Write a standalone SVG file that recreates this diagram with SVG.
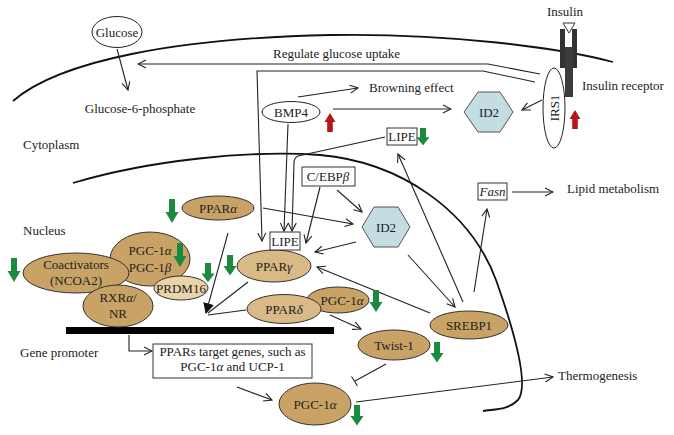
<svg xmlns="http://www.w3.org/2000/svg" xmlns:xlink="http://www.w3.org/1999/xlink" width="674" height="435" viewBox="0 0 674 435">
<defs>
<style>
text{font-family:"Liberation Serif","Times New Roman",serif;font-size:13px;fill:#222}
.c{text-anchor:middle}
.ln{fill:none;stroke:#222;stroke-width:1.1}
.mem{fill:none;stroke:#111;stroke-width:1.8}
.tan{fill:#c9a266;stroke:#333;stroke-width:1}
.lt{fill:#d9b985;stroke:#333;stroke-width:1}
.pale{fill:#ebd3aa;stroke:#333;stroke-width:1}
.box{fill:#fff;stroke:#333;stroke-width:1}
.hex{fill:#c3dde2;stroke:#555;stroke-width:1}
.arr{marker-end:url(#oa)}
</style>
<marker id="oa" viewBox="0 0 10 10" refX="9" refY="5" markerWidth="10" markerHeight="10" markerUnits="userSpaceOnUse" orient="auto">
<path d="M1,1 L9,5 L1,9" fill="none" stroke="#222" stroke-width="1.1"/>
</marker>
<marker id="fa" viewBox="0 0 10 10" refX="9" refY="5" markerWidth="11" markerHeight="11" markerUnits="userSpaceOnUse" orient="auto">
<path d="M0,0 L10,5 L0,10 z" fill="#111"/>
</marker>
<polygon id="gd" points="-3,0 3,0 3,13 6.5,13 0,24 -6.5,13 -3,13" fill="#1a8a3e"/>
<polygon id="ru" points="-2.8,19 2.8,19 2.8,9 5.5,9 0,0 -5.5,9 -2.8,9" fill="#b3171b"/>
</defs>
<rect width="674" height="435" fill="#fff"/>

<!-- membranes -->
<path class="mem" d="M13,101 C60,60 180,38 330,35 C450,33 560,48 613,62"/>
<path class="mem" d="M73,183 C150,160 250,150 320,155 C400,162 470,210 496,280 C512,325 530,385 518,400 C508,410 495,409 483,411"/>

<!-- labels -->
<text x="23" y="149">Cytoplasm</text>
<text x="23" y="235">Nucleus</text>
<text x="20" y="357">Gene promoter</text>
<text x="140" y="113" class="c">Glucose-6-phosphate</text>
<text x="273" y="58">Regulate glucose uptake</text>
<text x="369" y="92">Browning effect</text>
<text x="582" y="90">Insulin receptor</text>
<text x="567" y="193">Lipid metabolism</text>
<text x="558" y="380">Thermogenesis</text>
<text x="565" y="16" class="c">Insulin</text>

<!-- black promoter bar -->
<rect x="66" y="327" width="268" height="7" fill="#000"/>

<!-- connectors -->
<g id="connectors">
<line class="ln arr" x1="117" y1="49" x2="128" y2="90"/>
<polyline class="ln arr" points="540,74 488,64 138,64"/>
<polyline class="ln arr" points="535,82 483,71 257,71 262,241"/>
<line class="ln arr" x1="298" y1="97" x2="358" y2="88"/>
<line class="ln arr" x1="333" y1="109" x2="451" y2="109"/>
<line class="ln arr" x1="542" y1="100" x2="522" y2="110"/>
<line class="ln arr" x1="288" y1="124" x2="284" y2="231"/>
<path class="ln arr" d="M385,137 L298,156 Q294,158 294,163 L292,231"/>
<line class="ln arr" x1="320" y1="187" x2="306" y2="243"/>
<line class="ln arr" x1="337" y1="190" x2="362" y2="212"/>
<line class="ln arr" x1="263" y1="208" x2="353" y2="224"/>
<line class="ln arr" x1="356" y1="242" x2="315" y2="252"/>
<line class="ln arr" x1="430" y1="313" x2="317" y2="267"/>
<line class="ln arr" x1="408" y1="255" x2="455" y2="307"/>
<line class="ln arr" x1="463" y1="302" x2="398" y2="154"/>
<line class="ln arr" x1="474" y1="292" x2="487" y2="209"/>
<line class="ln arr" x1="512" y1="192" x2="553" y2="192"/>
<line class="ln" x1="228" y1="233" x2="206" y2="313" marker-end="url(#fa)"/>
<line class="ln" x1="248" y1="282" x2="208" y2="313"/>
<line class="ln" x1="246" y1="310" x2="208" y2="315"/>
<line class="ln arr" x1="330" y1="315" x2="361" y2="329"/>
<polyline class="ln arr" points="129,335 129,351 152,351"/>
<line class="ln arr" x1="237" y1="387" x2="272" y2="400"/>
<line class="ln arr" x1="356" y1="402" x2="553" y2="377"/>
<line class="ln" x1="386" y1="364" x2="355" y2="381"/>
<line class="ln" x1="351.5" y1="376.5" x2="357.5" y2="386"/>
</g>

<!-- nodes -->
<g id="glucose"><ellipse cx="117" cy="32" rx="25" ry="15.5" fill="#fff" stroke="#222"/><text x="117" y="37" class="c">Glucose</text></g>

<g id="receptor">
<rect x="560" y="29" width="5" height="39" fill="#333"/>
<rect x="572" y="29" width="5" height="39" fill="#333"/>
<rect x="565" y="47" width="8" height="50" fill="#3c3c3c"/>
<polygon points="563,23 575,23 569,33" fill="#fff" stroke="#333"/>
</g>
<g id="irs1"><ellipse cx="554" cy="108" rx="11" ry="40" fill="#fff" stroke="#222"/><text x="0" y="0" class="c" transform="translate(558.5,108) rotate(-90)">IRS1</text></g>

<g id="bmp4"><ellipse cx="291" cy="112" rx="29" ry="10.5" fill="#fff" stroke="#222"/><text x="291" y="117" class="c">BMP4</text></g>

<g id="id2-top"><polygon class="hex" points="464,112 478,92 500,92 513,112 500,132 478,132"/><text x="489" y="117" class="c">ID2</text></g>

<g id="lipe-top"><rect class="box" x="387" y="128" width="30" height="17"/><text x="402" y="141" class="c">LIPE</text></g>

<g id="cebpb"><rect class="box" x="302" y="167" width="53" height="19"/><text x="328" y="181" class="c">C/EBP<tspan font-style="italic">β</tspan></text></g>

<g id="id2-mid"><polygon class="hex" points="362,227 374,207 398,207 410,227 398,247 374,247"/><text x="386" y="232" class="c">ID2</text></g>

<g id="fasn"><rect class="box" x="478" y="183" width="29" height="17"/><text x="492.5" y="196" class="c" font-style="italic">Fasn</text></g>

<g id="ppara"><ellipse class="tan" cx="218" cy="208" rx="36" ry="12"/><text x="218" y="213" class="c">PPAR<tspan font-style="italic">α</tspan></text></g>

<g id="pparg"><ellipse class="lt" cx="274" cy="266" rx="37" ry="16"/><text x="274" y="271" class="c">PPAR<tspan font-style="italic">γ</tspan></text></g>
<g id="lipe-mid"><rect class="box" x="270" y="232" width="30" height="18"/><text x="285" y="246" class="c">LIPE</text></g>

<g id="pgc"><ellipse class="tan" cx="150" cy="259" rx="40" ry="27"/><text x="150" y="255" class="c">PGC-1<tspan font-style="italic">α</tspan></text><text x="150" y="272" class="c">PGC-1<tspan font-style="italic">β</tspan></text></g>
<g id="coactivators"><ellipse class="tan" cx="76" cy="273" rx="53" ry="20"/><text x="76" y="269" class="c">Coactivators</text><text x="76" y="285" class="c">(NCOA2)</text></g>
<g id="rxr"><ellipse class="tan" cx="118" cy="306" rx="35" ry="21"/><text x="118" y="302" class="c">RXR<tspan font-style="italic">α</tspan>/</text><text x="118" y="318" class="c">NR</text></g>
<g id="prdm16"><ellipse class="pale" cx="181" cy="288" rx="27" ry="12"/><text x="181" y="293" class="c">PRDM16</text></g>

<g id="pgc-small"><ellipse class="tan" cx="338" cy="300" rx="31" ry="13"/><text x="342" y="305" class="c">PGC-1<tspan font-style="italic">α</tspan></text></g>
<g id="ppard"><ellipse class="lt" cx="284" cy="309" rx="37" ry="14.5"/><text x="284" y="314" class="c">PPAR<tspan font-style="italic">δ</tspan></text></g>

<g id="srebp1"><ellipse class="tan" cx="469" cy="325" rx="39" ry="14"/><text x="469" y="330" class="c">SREBP1</text></g>
<g id="twist1"><ellipse class="tan" cx="394" cy="345" rx="36" ry="15"/><text x="394" y="350" class="c">Twist-1</text></g>

<g id="targets"><rect class="box" x="153" y="344" width="159" height="34"/><text x="232.5" y="356" class="c">PPARs target genes, such as</text><text x="232.5" y="371" class="c">PGC-1<tspan font-style="italic">α</tspan> and UCP-1</text></g>

<g id="pgc-low"><ellipse class="tan" cx="315" cy="404" rx="36" ry="21"/><text x="315" y="409" class="c">PGC-1<tspan font-style="italic">α</tspan></text></g>

<!-- up/down indicators -->
<g id="indicators">
<use xlink:href="#gd" transform="translate(172,199)"/>
<use xlink:href="#gd" transform="translate(14,258)"/>
<use xlink:href="#gd" transform="translate(180,243)"/>
<use xlink:href="#gd" transform="translate(208,263) scale(1,0.8)"/>
<use xlink:href="#gd" transform="translate(230,255) scale(1,0.85)"/>
<use xlink:href="#gd" transform="translate(423,128) scale(1,0.72)"/>
<use xlink:href="#gd" transform="translate(376,290) scale(1,0.92)"/>
<use xlink:href="#gd" transform="translate(437,342) scale(1,0.85)"/>
<use xlink:href="#gd" transform="translate(357,405) scale(1,0.85)"/>
<use xlink:href="#ru" transform="translate(330,113)"/>
<use xlink:href="#ru" transform="translate(575,110)"/>
</g>
</svg>
